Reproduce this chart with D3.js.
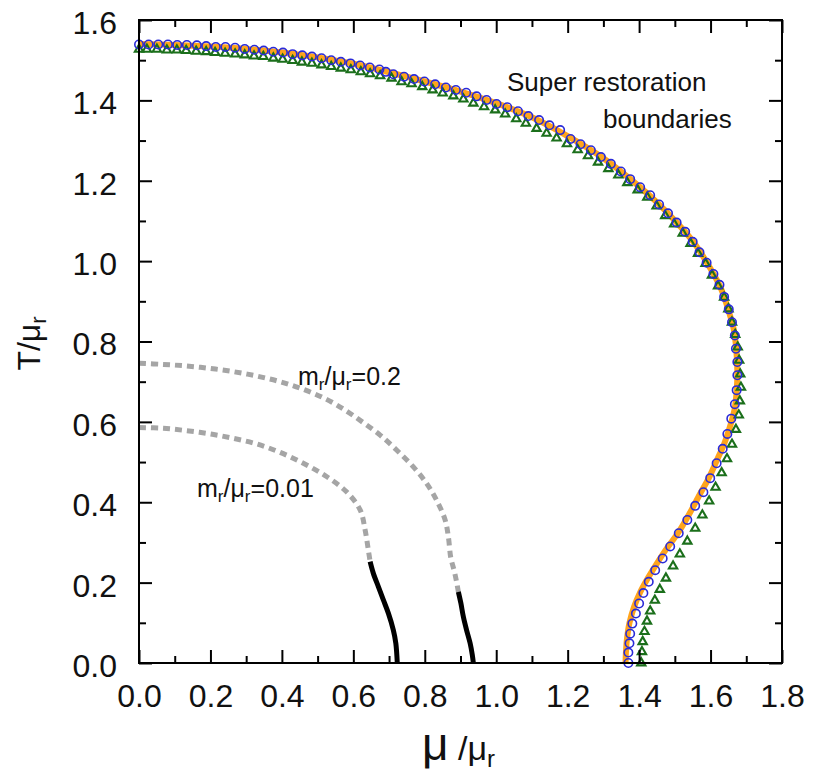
<!DOCTYPE html>
<html>
<head>
<meta charset="utf-8">
<script src="https://cdn.jsdelivr.net/npm/d3@7"></script>
<style>
  html, body { margin: 0; padding: 0; background: #fff; }
  svg { display: block; font-family: "Liberation Sans", Arial, Helvetica, sans-serif; }
</style>
</head>
<body>
<svg id="chart" width="815" height="778"></svg>
<script>
// ---------------- data ----------------
const xTicks = [0.0, 0.2, 0.4, 0.6, 0.8, 1.0, 1.2, 1.4, 1.6, 1.8];
const yTicks = [0.0, 0.2, 0.4, 0.6, 0.8, 1.0, 1.2, 1.4, 1.6];
const xMinor = [0.1, 0.3, 0.5, 0.7, 0.9, 1.1, 1.3, 1.5, 1.7];
const yMinor = [0.1, 0.3, 0.5, 0.7, 0.9, 1.1, 1.3, 1.5];

// orange solid boundary
const orangeMu = [0,0.1,0.2,0.3,0.4,0.5,0.6,0.7,0.8,0.9,1.0,1.1,1.2,1.3,1.4,1.45,1.5,1.55,1.6,1.63,1.65,1.665,1.672,1.675,1.673,1.667,1.655,1.638,1.618,1.595,1.57,1.54,1.51,1.475,1.45,1.425,1.403,1.386,1.373,1.366,1.363,1.362];
const orangeT  = [1.540,1.538,1.534,1.528,1.519,1.507,1.491,1.470,1.447,1.422,1.393,1.358,1.311,1.256,1.186,1.146,1.101,1.050,0.981,0.930,0.878,0.830,0.780,0.725,0.675,0.630,0.590,0.545,0.505,0.460,0.420,0.370,0.325,0.282,0.248,0.212,0.176,0.140,0.100,0.060,0.025,0];

// blue open circles
const circleMu = [0,0.027,0.054,0.081,0.107,0.134,0.162,0.188,0.215,0.242,0.269,0.296,0.323,0.349,0.376,0.403,0.430,0.457,0.484,0.511,0.538,0.565,0.592,0.619,0.646,0.673,0.691,0.712,0.742,0.770,0.799,0.829,0.859,0.887,0.916,0.945,0.973,1.001,1.031,1.061,1.090,1.120,1.149,1.179,1.208,1.236,1.265,1.293,1.321,1.349,1.375,1.403,1.431,1.456,1.481,1.505,1.529,1.550,1.569,1.589,1.608,1.625,1.638,1.651,1.660,1.668,1.671,1.675,1.675,1.673,1.668,1.658,1.647,1.634,1.617,1.599,1.580,1.557,1.535,1.511,1.487,1.466,1.445,1.427,1.412,1.400,1.391,1.381,1.375,1.373,1.370,1.370];
const circleT  = [1.539,1.539,1.539,1.539,1.538,1.538,1.537,1.535,1.533,1.533,1.531,1.528,1.526,1.524,1.521,1.519,1.515,1.512,1.509,1.505,1.500,1.496,1.492,1.487,1.482,1.477,1.471,1.465,1.459,1.453,1.447,1.440,1.432,1.426,1.419,1.410,1.401,1.391,1.383,1.373,1.361,1.351,1.338,1.326,1.304,1.291,1.276,1.259,1.242,1.223,1.204,1.184,1.164,1.141,1.119,1.096,1.073,1.048,1.022,0.996,0.968,0.941,0.911,0.880,0.848,0.815,0.782,0.749,0.716,0.679,0.644,0.608,0.570,0.533,0.497,0.460,0.425,0.391,0.356,0.323,0.290,0.260,0.231,0.202,0.174,0.148,0.123,0.098,0.073,0.049,0.026,0];

// green open triangles
const triMu = [0,0.022,0.050,0.078,0.106,0.132,0.160,0.188,0.213,0.241,0.269,0.296,0.322,0.348,0.376,0.402,0.430,0.456,0.484,0.511,0.538,0.565,0.593,0.621,0.647,0.675,0.707,0.735,0.763,0.793,0.822,0.850,0.880,0.908,0.936,0.966,0.997,1.025,1.056,1.083,1.113,1.141,1.169,1.198,1.228,1.257,1.285,1.314,1.342,1.367,1.396,1.423,1.449,1.473,1.498,1.522,1.544,1.565,1.586,1.604,1.621,1.638,1.650,1.660,1.669,1.676,1.680,1.683,1.685,1.682,1.679,1.671,1.660,1.646,1.631,1.614,1.596,1.577,1.557,1.535,1.514,1.495,1.475,1.458,1.444,1.431,1.422,1.415,1.410,1.408,1.406];
const triT  = [1.527,1.527,1.527,1.525,1.525,1.524,1.522,1.521,1.519,1.517,1.515,1.513,1.510,1.509,1.505,1.502,1.499,1.495,1.492,1.488,1.484,1.480,1.476,1.471,1.466,1.461,1.455,1.446,1.441,1.434,1.426,1.418,1.411,1.403,1.393,1.384,1.376,1.366,1.354,1.343,1.330,1.318,1.306,1.292,1.277,1.262,1.246,1.230,1.214,1.195,1.177,1.159,1.137,1.113,1.092,1.069,1.044,1.019,0.994,0.965,0.938,0.910,0.881,0.848,0.817,0.786,0.753,0.719,0.686,0.652,0.617,0.581,0.544,0.508,0.473,0.437,0.403,0.368,0.335,0.303,0.271,0.241,0.211,0.183,0.156,0.129,0.104,0.078,0.053,0.028,0.0];

// m_r/mu_r = 0.2 : gray dotted (upper) + black solid (lower)
const grayA_Mu = [0,0.068,0.134,0.199,0.264,0.330,0.395,0.460,0.525,0.581,0.628,0.675,0.721,0.768,0.805,0.833,0.857,0.866,0.873,0.882,0.889,0.894];
const grayA_T  = [0.746,0.743,0.739,0.733,0.725,0.714,0.700,0.681,0.656,0.627,0.598,0.567,0.530,0.488,0.447,0.405,0.356,0.314,0.261,0.231,0.202,0.177];
const blackA_Mu = [0.894,0.901,0.908,0.917,0.927,0.933,0.936];
const blackA_T  = [0.177,0.149,0.115,0.082,0.049,0.020,0];

// m_r/mu_r = 0.01
const grayB_Mu = [0,0.068,0.134,0.199,0.264,0.330,0.395,0.460,0.525,0.581,0.619,0.633,0.642,0.647];
const grayB_T  = [0.586,0.584,0.578,0.570,0.559,0.545,0.524,0.497,0.464,0.426,0.381,0.331,0.281,0.252];
const blackB_Mu = [0.647,0.656,0.670,0.684,0.698,0.712,0.719,0.723];
const blackB_T  = [0.252,0.223,0.190,0.157,0.124,0.082,0.049,0];

// ---------------- layout ----------------
const svg = d3.select("#chart");
const L = 139, T = 20, W = 643, H = 643;
const x = d3.scaleLinear().domain([0, 1.8]).range([L, L + W]);
const y = d3.scaleLinear().domain([0, 1.6]).range([T + H, T]);

const zip = (a, b) => a.map((v, i) => [v, b[i]]);
const line = d3.line().x(d => x(d[0])).y(d => y(d[1])).curve(d3.curveCatmullRom.alpha(0.5));

const plot = svg.append("g");

// gray dotted
[[grayA_Mu, grayA_T], [grayB_Mu, grayB_T]].forEach(([m, t]) => {
  plot.append("path").attr("d", line(zip(m, t)))
    .attr("fill", "none").attr("stroke", "#a5a5a5").attr("stroke-width", 5)
    .attr("stroke-dasharray", "7,5");
});
// black solid
[[blackA_Mu, blackA_T], [blackB_Mu, blackB_T]].forEach(([m, t]) => {
  plot.append("path").attr("d", line(zip(m, t)))
    .attr("fill", "none").attr("stroke", "#000").attr("stroke-width", 5);
});

// orange line
plot.append("path").attr("d", line(zip(orangeMu, orangeT)))
  .attr("fill", "none").attr("stroke", "#ffa41c").attr("stroke-width", 6)
  .attr("stroke-linecap", "butt");

// triangles
const triSym = d3.symbol().type(d3.symbolTriangle).size(30);
plot.append("g").selectAll("path").data(zip(triMu, triT)).join("path")
  .attr("d", triSym)
  .attr("transform", d => `translate(${x(d[0])},${y(d[1])})`)
  .attr("fill", "none").attr("stroke", "#1b6f1b").attr("stroke-width", 2.1);

// circles
plot.append("g").selectAll("circle").data(zip(circleMu, circleT)).join("circle")
  .attr("cx", d => x(d[0])).attr("cy", d => y(d[1])).attr("r", 4.2)
  .attr("fill", "none").attr("stroke", "#2a2ad8").attr("stroke-width", 1.6);

// ---------------- axes ----------------
const fs = 32;
const gB = svg.append("g").attr("transform", `translate(0,${T + H})`)
  .call(d3.axisBottom(x).tickValues(xTicks).tickFormat(d3.format(".1f")).tickSizeInner(-13).tickSizeOuter(0).tickPadding(21));
const gBm = svg.append("g").attr("transform", `translate(0,${T + H})`)
  .call(d3.axisBottom(x).tickValues(xMinor).tickFormat("").tickSizeInner(-7).tickSizeOuter(0));
const gTp = svg.append("g").attr("transform", `translate(0,${T})`)
  .call(d3.axisTop(x).tickValues(xTicks).tickFormat("").tickSizeInner(-13).tickSizeOuter(0));
const gTm = svg.append("g").attr("transform", `translate(0,${T})`)
  .call(d3.axisTop(x).tickValues(xMinor).tickFormat("").tickSizeInner(-7).tickSizeOuter(0));
const gL = svg.append("g").attr("transform", `translate(${L},0)`)
  .call(d3.axisLeft(y).tickValues(yTicks).tickFormat(d3.format(".1f")).tickSizeInner(-13).tickSizeOuter(0).tickPadding(22));
const gLm = svg.append("g").attr("transform", `translate(${L},0)`)
  .call(d3.axisLeft(y).tickValues(yMinor).tickFormat("").tickSizeInner(-7).tickSizeOuter(0));
const gR = svg.append("g").attr("transform", `translate(${L + W},0)`)
  .call(d3.axisRight(y).tickValues(yTicks).tickFormat("").tickSizeInner(-13).tickSizeOuter(0));
const gRm = svg.append("g").attr("transform", `translate(${L + W},0)`)
  .call(d3.axisRight(y).tickValues(yMinor).tickFormat("").tickSizeInner(-7).tickSizeOuter(0));

[gB, gBm, gTp, gTm, gL, gLm, gR, gRm].forEach(g => {
  g.select(".domain").remove();
  g.selectAll(".tick line").attr("stroke", "#000").attr("stroke-width", 2);
  g.selectAll("text").attr("font-size", fs).attr("font-family", "Liberation Sans, Arial, sans-serif").attr("fill", "#111");
});
gL.selectAll("text").attr("dy", "0.42em");

// frame
svg.append("rect").attr("x", L).attr("y", T).attr("width", W).attr("height", H)
  .attr("fill", "none").attr("stroke", "#000").attr("stroke-width", 2);

// ---------------- titles ----------------
const yt = svg.append("text")
  .attr("transform", `translate(40,${T + H / 2 + 2}) rotate(-90)`)
  .attr("text-anchor", "middle").attr("font-size", 32).attr("fill", "#111");
yt.append("tspan").text("T/μ");
yt.append("tspan").attr("font-size", 22).attr("dy", 6).text("r");

const xt = svg.append("text")
  .attr("x", L + W / 2 - 2).attr("y", 760)
  .attr("text-anchor", "middle").attr("fill", "#111");
xt.append("tspan").attr("font-size", 46).text("μ");
xt.append("tspan").attr("font-size", 34).text(" /μ");
xt.append("tspan").attr("font-size", 24).attr("dy", 7).text("r");

// ---------------- annotations ----------------
svg.append("text").attr("x", 507).attr("y", 91).attr("font-size", 26).attr("fill", "#111").text("Super restoration");
svg.append("text").attr("x", 603).attr("y", 128).attr("font-size", 26).attr("fill", "#111").text("boundaries");

function massLabel(px, py, val) {
  const t = svg.append("text").attr("x", px).attr("y", py).attr("font-size", 25).attr("fill", "#111");
  t.append("tspan").text("m");
  t.append("tspan").attr("font-size", 17).attr("dy", 5).text("r");
  t.append("tspan").attr("dy", -5).text("/μ");
  t.append("tspan").attr("font-size", 17).attr("dy", 5).text("r");
  t.append("tspan").attr("dy", -5).text("=" + val);
}
massLabel(298, 385, "0.2");
massLabel(197, 497, "0.01");
</script>
</body>
</html>
